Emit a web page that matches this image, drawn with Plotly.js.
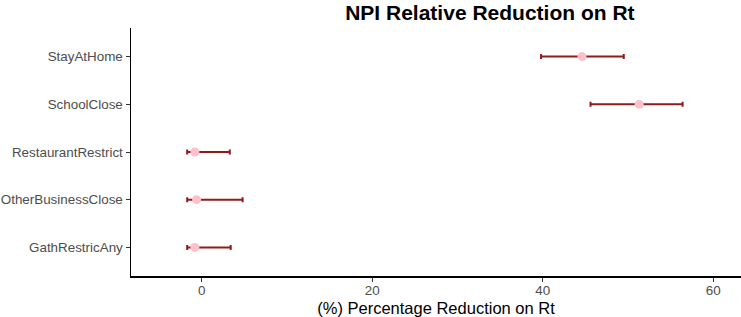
<!DOCTYPE html>
<html>
<head>
<meta charset="utf-8">
<script src="https://cdn.plot.ly/plotly-3.0.1.min.js"></script>
<style>html,body{margin:0;padding:0;background:#fff;}#chart{width:741px;height:317px;}</style>
</head>
<body>
<div id="chart"></div>
<script>
const categories = ["GathRestricAny", "OtherBusinessClose", "RestaurantRestrict", "SchoolClose", "StayAtHome"];
const estimate = [-0.8, -0.6, -0.8, 51.3, 44.6];
const lower = [-1.7, -1.7, -1.7, 45.6, 39.8];
const upper = [3.4, 4.8, 3.3, 56.4, 49.5];
const xTicks = [0, 20, 40, 60];

const errPlus = estimate.map((v, i) => upper[i] - v);
const errMinus = estimate.map((v, i) => v - lower[i]);

const trace = {
  type: "scatter",
  mode: "markers",
  x: estimate,
  y: categories,
  marker: {color: "#FFC0CB", size: 9, line: {width: 0}},
  error_x: {
    type: "data",
    symmetric: false,
    array: errPlus,
    arrayminus: errMinus,
    color: "#931A1A",
    thickness: 2,
    width: 2.5
  },
  hoverinfo: "none"
};

const layout = {
  width: 741,
  height: 317,
  margin: {l: 131, r: 0, t: 28, b: 41, pad: 0},
  paper_bgcolor: "#ffffff",
  plot_bgcolor: "#ffffff",
  showlegend: false,
  font: {family: "Liberation Sans, Arial, sans-serif", color: "#4D4D4D"},
  title: {
    text: "<b>NPI Relative Reduction on Rt</b>",
    font: {size: 21, color: "#000000", family: "Liberation Sans, Arial, sans-serif"},
    x: 0.5883,
    xanchor: "center",
    xref: "paper",
    yref: "container",
    y: 0.99,
    yanchor: "top",
    pad: {t: 2}
  },
  xaxis: {
    range: [-8.29, 63.25],
    tickvals: xTicks,
    ticktext: xTicks.map(String),
    showgrid: false,
    zeroline: false,
    showline: true,
    linecolor: "#000000",
    linewidth: 1.5,
    ticks: "outside",
    ticklen: 4,
    tickwidth: 1,
    tickcolor: "#333333",
    ticklabelstandoff: -3,
    tickfont: {size: 13.4, color: "#4D4D4D"},
    title: {text: "(%) Percentage Reduction on Rt", font: {size: 16.5, color: "#000000"}, standoff: 10}
  },
  yaxis: {
    type: "category",
    categoryorder: "array",
    categoryarray: categories,
    range: [-0.6, 4.6],
    showgrid: false,
    zeroline: false,
    showline: true,
    linecolor: "#000000",
    linewidth: 1.5,
    ticks: "outside",
    ticklen: 4,
    tickwidth: 1,
    tickcolor: "#333333",
    tickfont: {size: 13.4, color: "#4D4D4D"}
  }
};

Plotly.newPlot("chart", [trace], layout, {displayModeBar: false, staticPlot: true});
</script>
</body>
</html>
